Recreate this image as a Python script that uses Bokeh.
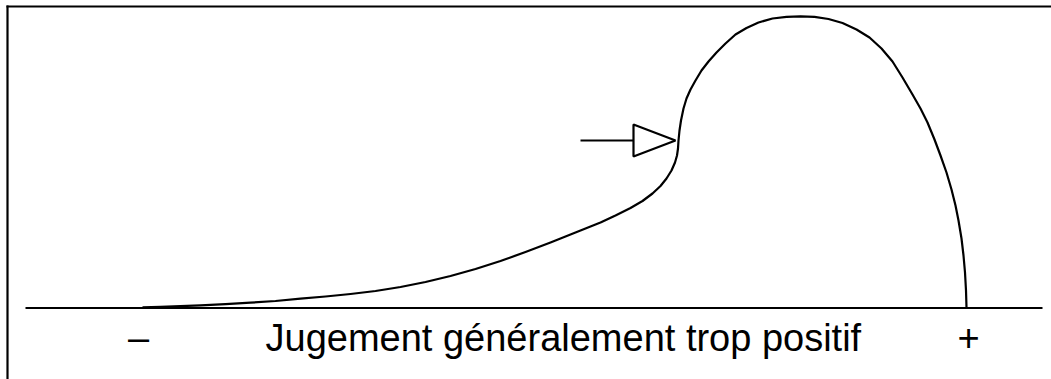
from bokeh.plotting import figure
from bokeh.models import Range1d
from bokeh.core.properties import value
from bokeh.embed import file_html
from bokeh.resources import INLINE

# Curve: x position (px) and screen y (px)
curve_x = [142, 160, 180, 200, 225, 250, 275, 300, 325, 350, 375, 400, 425, 450,
           475, 500, 525, 550, 575, 600, 615, 630, 642, 652, 660, 666, 671, 674.5,
           676.5, 677.5, 678, 679, 680.5, 683, 686, 690, 695, 701, 708, 716, 725,
           735, 746, 758, 772, 786, 800, 814, 828, 842, 856, 869, 881, 892, 902,
           912, 920, 927, 934, 940, 946, 951, 955, 958, 961, 963, 964.5, 965.5, 966]
curve_screen_y = [306.8, 306.3, 305.6, 304.8, 303.6, 302.2, 300.5, 298.2, 296, 293.5,
                  290.5, 286.5, 281.5, 275.5, 268.5, 260.5, 251.5, 242, 232, 222,
                  215, 207.5, 200.5, 193, 185.5, 178, 170, 162, 155, 148, 140, 130,
                  120, 108, 98, 89, 80, 70, 61, 52, 43, 34, 27.5, 22, 18, 16.3, 15.8,
                  16.3, 18.5, 22.5, 29, 37, 48, 61, 77, 94, 108, 122, 139, 155, 172,
                  189, 205, 220, 238, 255, 272, 290, 307]
BASE = 307.5
curve_h = [BASE - y for y in curve_screen_y]

# Arrow (entry point)
arrow_line_x = [580, 633]
arrow_line_h = [BASE - 140, BASE - 140]
tri_x = [633, 633, 675]
tri_h = [BASE - 124, BASE - 156, BASE - 140]

# Labels
label_minus = "–"
label_plus = "+"
label_axis = "Jugement généralement trop positif"
label_h = BASE - 337

W, H = 1051, 379
p = figure(width=W, height=H, output_backend="svg", toolbar_location=None,
           x_range=Range1d(0, W), y_range=Range1d(BASE - H, BASE),
           min_border=0)
p.axis.visible = False
p.grid.visible = False
p.outline_line_color = None
p.background_fill_color = "white"

# frame (top and left borders)
p.line([6, W], [BASE - 6, BASE - 6], line_color="black", line_width=2.2)
p.line([7, 7], [BASE - 5, BASE - H], line_color="black", line_width=2.2)

# baseline
p.line([25, 1042], [0, 0], line_color="black", line_width=2.2)

# curve
p.line(curve_x, curve_h, line_color="black", line_width=2.2, line_join="round")

# arrow
p.line(arrow_line_x, arrow_line_h, line_color="black", line_width=2.2)
p.patch(tri_x, tri_h, fill_color="white", line_color="black", line_width=2.2)

font = value("Liberation Sans")
fs = "38px"
p.text([138], [label_h], text=[label_minus], text_font=font, text_font_size=fs,
       text_align="center", text_baseline="alphabetic", text_color="black")
p.text([968], [label_h], text=[label_plus], text_font=font, text_font_size=fs,
       text_align="center", text_baseline="alphabetic", text_color="black")
p.text([265], [label_h], text=[label_axis], text_font=font, text_font_size=fs,
       text_align="left", text_baseline="alphabetic", text_color="black")

open("out.html", "w").write(file_html(p, INLINE))
